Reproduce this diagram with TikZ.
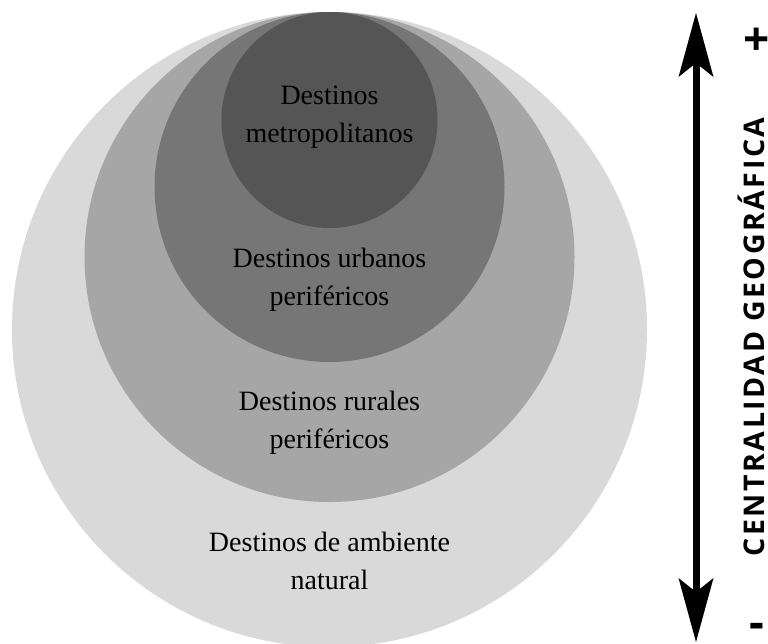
\documentclass[tikz,border=0pt]{standalone}
\usepackage{fontspec}
\setmainfont{Liberation Serif}
\newfontfamily\axisfont[LetterSpace=9]{Open Sans}
\newfontfamily\signfont{Open Sans}
\usetikzlibrary{arrows.meta}
\definecolor{ringA}{HTML}{D9D9D9}
\definecolor{ringB}{HTML}{A6A6A6}
\definecolor{ringC}{HTML}{767676}
\definecolor{ringD}{HTML}{555555}
\tikzset{
  lab/.style={align=center, anchor=base, inner sep=0pt, text=black,
    font=\fontsize{28}{38}\selectfont},
  axistext/.style={inner sep=0pt, font=\axisfont\bfseries\fontsize{28.5}{30}\selectfont},
  signtext/.style={inner sep=0pt, font=\signfont\bfseries\fontsize{46}{50}\selectfont},
  axisarrow/.style={line width=7pt,
    {Stealth[length=64pt,width=35pt,inset=14pt,line width=0pt]}-{Stealth[length=64pt,width=35pt,inset=14pt,line width=0pt]}}
}
\begin{document}
\begin{tikzpicture}[x=1pt,y=-1pt]
\useasboundingbox (0,0) rectangle (768,643);
\fill[white] (0,0) rectangle (768,643);
\fill[ringA] (329.5,329.5) circle[radius=317.5pt];
\fill[ringB] (329.5,257) circle[radius=245pt];
\fill[ringC] (329.5,187) circle[radius=175pt];
\fill[ringD] (329.5,120) circle[radius=108pt];
\node[lab] (metro) at (329.5,142) {Destinos\\metropolitanos};
\node[lab] (urban) at (329.5,305) {Destinos urbanos\\periféricos};
\node[lab] (rural) at (329.5,448) {Destinos rurales\\periféricos};
\node[lab] (natural) at (329.5,589) {Destinos de ambiente\\natural};
\coordinate (top) at (696,13);
\coordinate (bottom) at (696,642);
\draw[axisarrow] (bottom) -- (top);
\node[axistext, rotate=90, anchor=base] (axislabel) at (764.5,337) {CENTRALIDAD GEOGRÁFICA};
\node[signtext] (plus) at (757,41.5) {+};
\node[signtext] (minus) at (756.5,631) {-};
\end{tikzpicture}
\end{document}
